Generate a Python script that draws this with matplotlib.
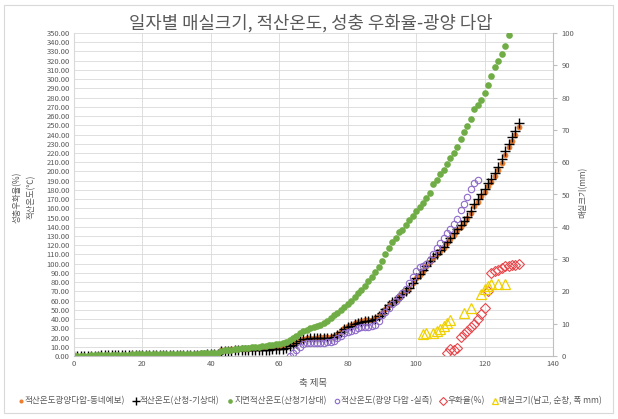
import numpy as np
import matplotlib
matplotlib.use("Agg")
import matplotlib.pyplot as plt
from matplotlib.patches import Rectangle

plt.rcParams['font.family'] = ['Noto Sans CJK KR', 'DejaVu Sans']

# ---- data ----
days_black = list(range(0, 131))
temp_sancheong = [
    0, 0.1, 0.2, 0.3, 0.4, 0.4, 0.5, 0.5, 0.6, 0.6, 0.7, 0.7, 0.8, 0.8, 0.8, 0.9, 0.9, 0.9, 1.0, 1.0,
    1.0, 1.1, 1.1, 1.1, 1.2, 1.2, 1.2, 1.3, 1.3, 1.3, 1.4, 1.4, 1.4, 1.5, 1.5, 1.5, 1.6, 1.6, 1.6, 1.7,
    1.7, 1.7, 1.8,
    5.5, 5.6, 5.8, 5.9, 6.0, 6.1, 6.2, 6.3, 6.4, 6.5, 6.6, 6.7, 6.8, 6.9, 7.0, 7.1, 7.2,
    7.5, 8, 9, 10.5, 12, 14, 16,
    18, 18.5, 19, 19, 19, 19.2, 19.5, 19.8, 20, 20.5,
    23, 26, 29, 31, 33, 34.5, 36, 37, 37.5, 38, 38.5, 40, 43,
    47, 51, 55, 58, 61, 64, 67, 70, 74, 79, 85,
    89, 93, 98, 103, 107, 111, 115, 118, 123, 128,
    133, 138, 142, 146, 151, 157, 165, 170, 176, 181,
    187, 192, 198, 205, 213, 222, 230, 237, 244, 252]

temp_forecast = [
    0, 0.1, 0.2, 0.3, 0.4, 0.5, 0.5, 0.6, 0.6, 0.7, 0.7, 0.8, 0.8, 0.9, 0.9, 1.0, 1.0, 1.0, 1.1, 1.1,
    1.1, 1.2, 1.2, 1.2, 1.3, 1.3, 1.3, 1.4, 1.4, 1.4, 1.5, 1.5, 1.5, 1.6, 1.6, 1.6, 1.7, 1.7, 1.7, 1.8,
    1.8, 1.8, 1.9,
    6.5, 6.7, 6.9, 7.1, 7.3, 7.5, 7.7, 7.9, 8.1, 8.3, 8.5, 8.7, 8.9, 9.1, 9.3, 9.5, 9.7,
    10, 10.5, 11.5, 12.5, 14, 15.5, 17,
    18.5, 19, 19.5, 19.8, 20, 20.2, 20.5, 20.8, 21, 21.5,
    24, 27, 30, 32, 34, 35.5, 37, 38, 38.5, 39, 39.5, 41, 44,
    47, 51, 55, 58, 61, 64, 67, 70, 74, 79, 84,
    88, 92, 97, 102, 106, 110, 114, 117, 122, 127,
    131, 136, 140, 144, 149, 155, 162, 167, 173, 178,
    184, 189, 195, 202, 209, 218, 226, 233, 240, 248]

days_green = list(range(0, 128))
temp_ground = [
    0, 0, 0.2, 0.4, 0.5, 0.7, 0.8, 0.9, 1.0, 1.1, 1.2, 1.3, 1.4, 1.5, 1.5, 1.6, 1.6, 1.7, 1.8, 1.8,
    1.9, 2.0, 2.0, 2.1, 2.1, 2.2, 2.2, 2.3, 2.3, 2.4, 2.4, 2.5, 2.5, 2.6, 2.6, 2.7, 2.7, 2.8, 2.8, 2.9,
    2.9, 3.0, 3.0,
    5.5, 6.0, 6.5, 7.0, 7.4, 7.8, 8.2, 8.6, 9.0, 9.4, 9.8, 10.2, 10.6, 11.0, 11.5, 12.0, 12.6, 13.2,
    14.5, 15.5, 17, 19, 22, 25,
    27, 28.5, 30, 31, 32.5, 34, 36, 38,
    41, 44, 47, 50, 53, 56,
    60, 64, 68, 72, 76, 81, 86, 91, 96,
    103, 110, 117, 124, 128, 134, 137, 142, 147, 152, 157,
    161, 166, 171, 177, 186, 191, 197, 202, 208, 215,
    220, 226, 235, 243, 249, 257, 268, 272, 277, 285, 294, 303, 313, 320, 327, 336, 348]

days_purple = list(range(63, 119))
temp_gwangyang = [
    0, 3, 6, 10, 13, 14.5, 14.5, 14.5, 14.5, 14.5, 14.6, 14.8, 15, 16, 19, 22, 25, 26, 27, 28,
    30, 31, 31, 31, 32, 34, 38, 44, 48, 52, 56, 60, 64, 68, 73, 79, 86, 92, 96, 98,
    100, 104, 110, 117, 122, 128, 133, 138, 143, 148, 158, 165, 172, 181, 187, 191]

days_emerge = list(range(109, 131))
emerge_rate = [3, 8, 7, 9, 21, 24, 27, 31, 35, 40, 45, 52, 70, 90, 92, 93, 95, 97, 98, 99, 99, 100]

days_size = [102, 103, 105, 106, 107, 108, 109, 110, 114, 116, 119, 120, 121, 122, 124, 126]
fruit_size = [6.7, 7.0, 7.2, 7.7, 8.3, 9.3, 10.3, 11.3, 13.4, 14.9, 19.1, 20.6, 21.7, 22.2, 22.2, 22.2]

W, H = 618, 419
fig = plt.figure(figsize=(W / 100, H / 100), dpi=100)
fig.patches.append(Rectangle((4 / W, 6 / H), 609 / W, 408 / H, transform=fig.transFigure,
                             fill=False, edgecolor='#d9d9d9', lw=0.8))

ax = fig.add_axes([74 / W, 1 - 356 / H, (553 - 74) / W, (356 - 33) / H])
ax.set_xlim(0, 140)
ax.set_ylim(0, 350)
ax.set_yticks(np.arange(0, 351, 10))
ax.set_yticklabels(['%.2f' % v for v in np.arange(0, 351, 10)])
ax.set_xticks(np.arange(0, 141, 20))
ax.grid(True, color='#d9d9d9', lw=0.6)
ax.set_axisbelow(True)
ax.tick_params(length=0, labelsize=5.5, labelcolor='#595959', pad=3)
for s in ['top', 'right']:
    ax.spines[s].set_visible(False)
ax.spines['left'].set_color('#d9d9d9')
ax.spines['bottom'].set_color('#bfbfbf')

h1, = ax.plot(days_black, temp_forecast, ls='none', marker='o', ms=4.2, color='#ED7D31', mec='none')
h2, = ax.plot(days_black, temp_sancheong, ls='none', marker='+', ms=7.5, mew=1.0, color='black')
h3, = ax.plot(days_green, temp_ground, ls='none', marker='o', ms=4.8, color='#70AD47', mec='none')
h4, = ax.plot(days_purple, temp_gwangyang, ls='none', marker='o', ms=4.6, mfc='none', mec='#8E6BC9', mew=0.8)
h5, = ax.plot(days_emerge, emerge_rate, ls='none', marker='D', ms=5.2, mfc='none', mec='#E8474C', mew=0.8)

ax2 = ax.twinx()
ax2.set_ylim(0, 100)
ax2.set_yticks(np.arange(0, 101, 10))
ax2.tick_params(length=3, color='#bfbfbf', labelsize=5.5, labelcolor='#595959', pad=3)
for s in ['top', 'left', 'bottom']:
    ax2.spines[s].set_visible(False)
ax2.spines['right'].set_color('#bfbfbf')
h6, = ax2.plot(days_size, fruit_size, ls='none', marker='^', ms=6.8, mfc='none', mec='#F0D000', mew=0.9)

c = '#595959'
fig.text(311 / W, 1 - 23 / H, '일자별 매실크기, 적산온도, 성충 우화율-광양 다압', ha='center', va='center',
         fontsize=12.8, color=c)
fig.text(313 / W, 1 - 383 / H, '축 제목', ha='center', va='center', fontsize=6.8, color=c)
fig.text(17 / W, 1 - 197 / H, '성충우화율(%)', rotation=90, ha='center', va='center', fontsize=6, color=c)
fig.text(31 / W, 1 - 197 / H, '적산온도(℃)', rotation=90, ha='center', va='center', fontsize=6, color=c)
fig.text(583 / W, 1 - 192 / H, '매실크기(mm)', rotation=90, ha='center', va='center', fontsize=6, color=c)

labels = ['적산온도광양다압-동네예보)', '적산온도(산청-기상대)', '지면적산온도(산청기상대)',
          '적산온도(광양 다압 -실측)', '우화율(%)', '매실크기(남고, 순창, 폭 mm)']
fig.legend([h1, h2, h3, h4, h5, h6], labels, loc='center', bbox_to_anchor=(310 / W, 1 - 401 / H),
           ncol=6, fontsize=6.2, frameon=False, handlelength=0.6, handletextpad=0.2,
           columnspacing=0.9, markerscale=0.7, labelcolor=c)

fig.savefig('out.png', dpi=100)
